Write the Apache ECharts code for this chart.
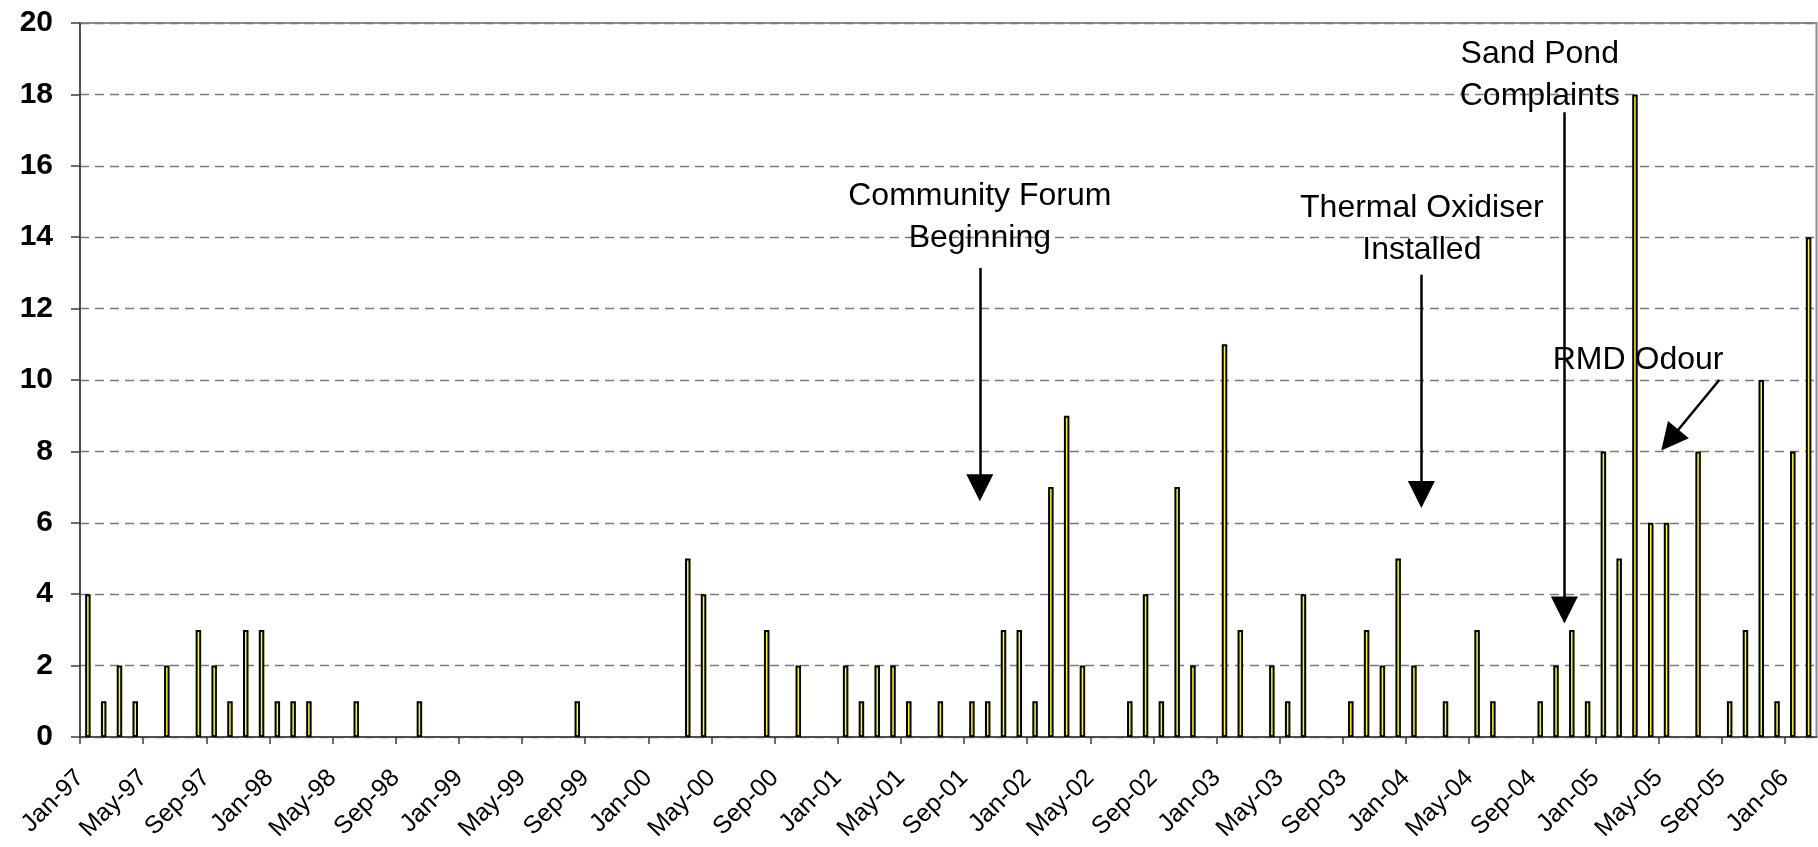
<!DOCTYPE html>
<html>
<head>
<meta charset="utf-8">
<script src="https://cdn.jsdelivr.net/npm/echarts@6/dist/echarts.min.js"></script>
<style>
html,body{margin:0;padding:0;background:#fff;}
#chart{width:1818px;height:847px;}
</style>
</head>
<body>
<div id="chart"></div>
<script>
// Monthly categories (Jan-97 .. Feb-06)
const months = [
 "Jan-97","Feb-97","Mar-97","Apr-97","May-97","Jun-97","Jul-97","Aug-97","Sep-97","Oct-97","Nov-97","Dec-97",
 "Jan-98","Feb-98","Mar-98","Apr-98","May-98","Jun-98","Jul-98","Aug-98","Sep-98","Oct-98","Nov-98","Dec-98",
 "Jan-99","Feb-99","Mar-99","Apr-99","May-99","Jun-99","Jul-99","Aug-99","Sep-99","Oct-99","Nov-99","Dec-99",
 "Jan-00","Feb-00","Mar-00","Apr-00","May-00","Jun-00","Jul-00","Aug-00","Sep-00","Oct-00","Nov-00","Dec-00",
 "Jan-01","Feb-01","Mar-01","Apr-01","May-01","Jun-01","Jul-01","Aug-01","Sep-01","Oct-01","Nov-01","Dec-01",
 "Jan-02","Feb-02","Mar-02","Apr-02","May-02","Jun-02","Jul-02","Aug-02","Sep-02","Oct-02","Nov-02","Dec-02",
 "Jan-03","Feb-03","Mar-03","Apr-03","May-03","Jun-03","Jul-03","Aug-03","Sep-03","Oct-03","Nov-03","Dec-03",
 "Jan-04","Feb-04","Mar-04","Apr-04","May-04","Jun-04","Jul-04","Aug-04","Sep-04","Oct-04","Nov-04","Dec-04",
 "Jan-05","Feb-05","Mar-05","Apr-05","May-05","Jun-05","Jul-05","Aug-05","Sep-05","Oct-05","Nov-05","Dec-05",
 "Jan-06","Feb-06"
];
// Complaints per month
const complaints = [
 4,1,2,1,0,2,0,3,2,1,3,3,
 1,1,1,0,0,1,0,0,0,1,0,0,
 0,0,0,0,0,0,0,1,0,0,0,0,
 0,0,5,4,0,0,0,3,0,2,0,0,
 2,1,2,2,1,0,1,0,1,1,3,3,
 1,7,9,2,0,0,1,4,1,7,2,0,
 11,3,0,2,1,4,0,0,1,3,2,5,
 2,0,1,0,3,1,0,0,1,2,3,1,
 8,5,18,6,6,0,8,0,1,3,10,1,
 8,14
];
// X tick labels (every 4 months)
const tickLabels = ["Jan-97","May-97","Sep-97","Jan-98","May-98","Sep-98","Jan-99","May-99","Sep-99",
 "Jan-00","May-00","Sep-00","Jan-01","May-01","Sep-01","Jan-02","May-02","Sep-02",
 "Jan-03","May-03","Sep-03","Jan-04","May-04","Sep-04","Jan-05","May-05","Sep-05","Jan-06"];
// Annotation texts and their anchor (month position, value)
const noteText = ["Community Forum\nBeginning","Thermal Oxidiser\nInstalled","Sand Pond\nComplaints","RMD Odour"];
const noteX = [57.0, 85.0, 92.47, 98.7];
const noteY = [14.56, 14.23, 18.53, 10.56];
// Arrows (month position, value) from -> to
const arrowFromX = [57.0, 84.97, 94.03, 103.84];
const arrowFromY = [13.14, 12.95, 17.5, 10.0];
const arrowToX   = [57.0, 84.97, 94.03, 100.71];
const arrowToY   = [6.98, 6.79, 3.56, 8.32];

const FONT = "'Liberation Sans', Arial, Helvetica, sans-serif";
const tickValues = tickLabels.map(l => months.indexOf(l));

const chart = echarts.init(document.getElementById('chart'), null, {renderer:'canvas'});
const option = {
  animation: false,
  grid: {left: 80, right: 1.5, top: 23, bottom: 110, show: true, borderColor: '#8c8c8c', borderWidth: 2, backgroundColor: 'transparent'},
  xAxis: {
    type: 'value', min: 0, max: months.length,
    axisLine: {show: true, onZero: false, lineStyle: {color: '#3c3c3c', width: 1.5}},
    axisTick: {show: true, length: 7, customValues: tickValues, lineStyle: {color: '#3c3c3c', width: 1.5}},
    axisLabel: {customValues: tickValues, formatter: v => months[v] || '', rotate: 45, margin: 37,
      fontSize: 25, fontFamily: FONT, color: '#000'},
    splitLine: {show: false}
  },
  yAxis: {
    type: 'value', min: 0, max: 20, interval: 2,
    axisLine: {show: true, lineStyle: {color: '#3c3c3c', width: 1.5}},
    axisTick: {show: true, length: 9, lineStyle: {color: '#3c3c3c', width: 1.5}},
    axisLabel: {fontSize: 30, fontWeight: 'bold', fontFamily: FONT, color: '#000', margin: 27},
    splitLine: {show: true, lineStyle: {color: '#7a7a7a', type: [9, 6], width: 1.3}}
  },
  series: [{
    type: 'bar',
    data: complaints.map((v, i) => v === 0
      ? {value: [i + 0.5, v], itemStyle: {borderWidth: 0, opacity: 0}}
      : {value: [i + 0.5, v]}),
    barWidth: 5.5,
    itemStyle: {color: '#ffff00', borderColor: '#000', borderWidth: 2},
    emphasis: {disabled: true},
    markLine: {
      silent: true, animation: false,
      symbol: ['none', 'triangle'], symbolSize: 27,
      label: {show: false},
      emphasis: {disabled: true},
      lineStyle: {color: '#000', width: 2.5, type: 'solid', opacity: 1},
      itemStyle: {color: '#000', opacity: 1},
      data: arrowFromX.map((x, i) => [{coord: [x, arrowFromY[i]]}, {coord: [arrowToX[i], arrowToY[i]]}])
    },
    markPoint: {
      silent: true, animation: false,
      symbol: 'circle', symbolSize: 0,
      label: {show: true, position: 'inside', formatter: p => p.name, fontSize: 32, color: '#000',
        fontFamily: FONT, lineHeight: 42, align: 'center', verticalAlign: 'middle'},
      emphasis: {disabled: true},
      data: noteText.map((t, i) => ({name: t, coord: [noteX[i], noteY[i]]}))
    }
  }]
};
chart.setOption(option);
</script>
</body>
</html>
